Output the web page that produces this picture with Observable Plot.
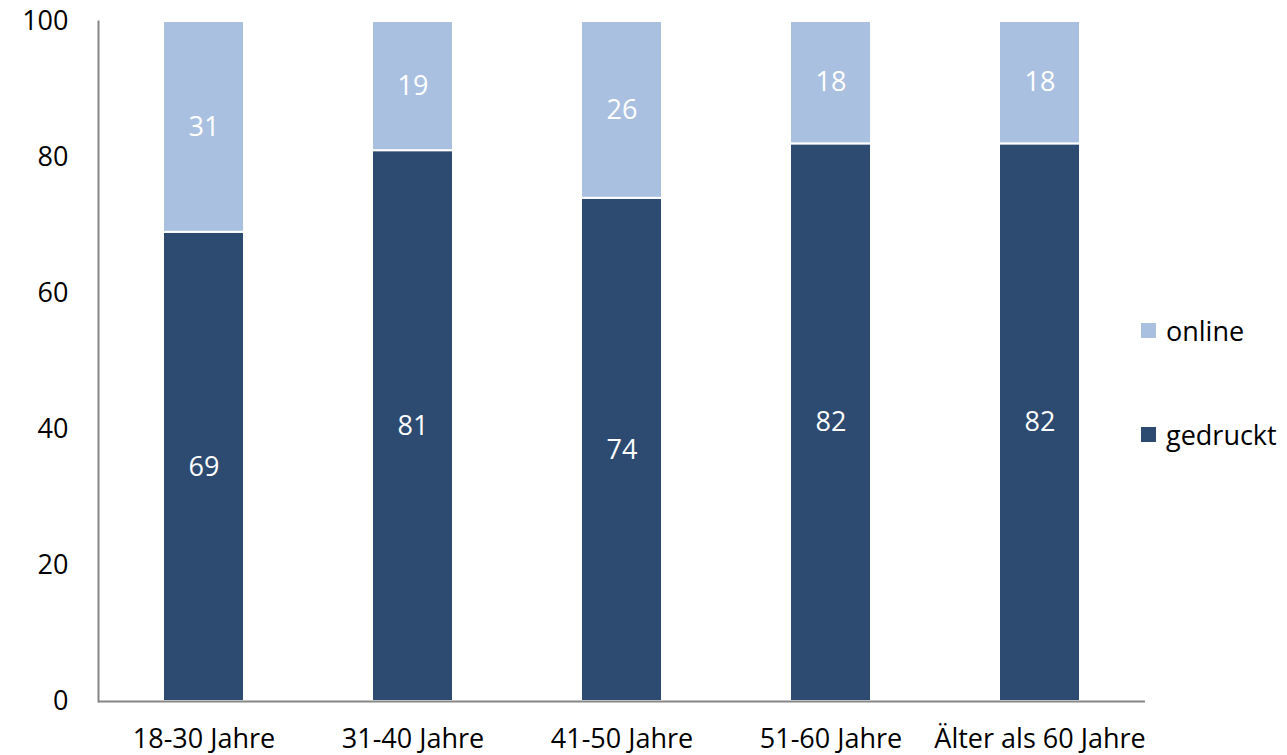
<!DOCTYPE html>
<html>
<head>
<meta charset="utf-8">
<script src="https://cdn.jsdelivr.net/npm/d3@7"></script>
<script src="https://cdn.jsdelivr.net/npm/@observablehq/plot@0.6"></script>
<style>
  html, body { margin: 0; padding: 0; background: #fff; }
  #wrap { position: relative; width: 1287px; height: 755px; font-family: "Open Sans", sans-serif; }
  .legend { position: absolute; left: 1141px; font-size: 27px; color: #000; display: flex; align-items: center; }
  .legend .sw { width: 15px; height: 15px; margin-right: 10px; }
</style>
</head>
<body>
<div id="wrap"></div>
<script>
const categories = ["18-30 Jahre", "31-40 Jahre", "41-50 Jahre", "51-60 Jahre", "Älter als 60 Jahre"];
const gedruckt = [69, 81, 74, 82, 82];
const online = [31, 19, 26, 18, 18];
const seriesNames = ["gedruckt", "online"];
const seriesColors = ["#2d4a70", "#aac0e0"];
const yTicks = [0, 20, 40, 60, 80, 100];

const data = categories.flatMap((c, i) => [
  {cat: c, series: "gedruckt", value: gedruckt[i]},
  {cat: c, series: "online", value: online[i]}
]);

const chart = Plot.plot({
  width: 1287,
  height: 755,
  marginLeft: 98,
  marginRight: 142,
  marginTop: 21,
  marginBottom: 54,
  style: {fontFamily: "Open Sans", fontSize: "27px", color: "#000", background: "white", overflow: "visible"},
  x: {domain: categories, paddingInner: 0.613, paddingOuter: 0.3065, label: null, axis: null},
  y: {domain: [0, 100], label: null, axis: null},
  color: {domain: seriesNames, range: seriesColors},
  marks: [
    Plot.barY(data, Plot.stackY({x: "cat", y: "value", fill: "series", stroke: "white", strokeWidth: 2})),
    Plot.text(data, Plot.stackY({x: "cat", y: "value", z: "series", text: "value", fill: "white", fontSize: 27})),
    Plot.axisY({ticks: yTicks, tickSize: 0, tickPadding: 30, label: null, fontSize: 27, fill: "black"}),
    Plot.axisX({tickSize: 0, tickPadding: 27, label: null, fontSize: 27, fill: "black"}),
    Plot.frame({anchor: "left", stroke: "#868686", strokeWidth: 2}),
    Plot.ruleY([0], {stroke: "#868686", strokeWidth: 2})
  ]
});
const wrap = document.getElementById("wrap");
wrap.appendChild(chart);

const legendY = {online: 330, gedruckt: 434};
["online", "gedruckt"].forEach(name => {
  const d = document.createElement("div");
  d.className = "legend";
  d.style.top = (legendY[name] - 19) + "px";
  d.style.height = "38px";
  const sw = document.createElement("span");
  sw.className = "sw";
  sw.style.background = seriesColors[seriesNames.indexOf(name)];
  const t = document.createElement("span");
  t.textContent = name;
  d.appendChild(sw);
  d.appendChild(t);
  wrap.appendChild(d);
});
</script>
</body>
</html>
